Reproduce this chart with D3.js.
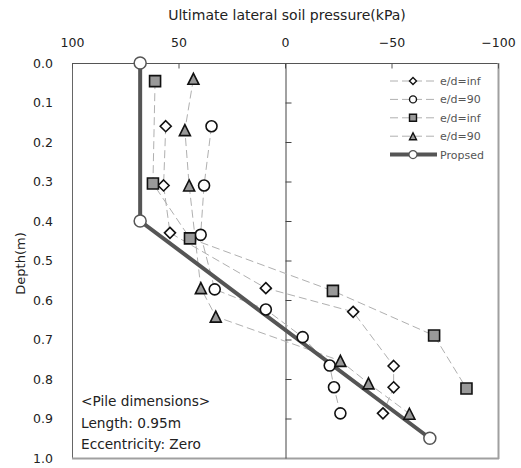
<!DOCTYPE html>
<html>
<head>
<meta charset="utf-8">
<script src="https://cdn.jsdelivr.net/npm/d3@7"></script>
<style>
	body { margin: 0; background: #fff; }
	text { font-family: "DejaVu Sans", sans-serif; }
</style>
</head>
<body>
<div id="chart"></div>
<script>
// pressure (kPa) and depth (m)
var diamondDepth = [0.16, 0.31, 0.43, 0.57, 0.63, 0.767, 0.821, 0.887];
var diamondP     = [56, 57, 54, 9, -32, -51, -51, -46];
var circleDepth  = [0.16, 0.31, 0.435, 0.573, 0.624, 0.694, 0.766, 0.821, 0.887];
var circleP      = [34.5, 38, 39.6, 33, 9, -8.3, -21, -23, -26];
var squareDepth  = [0.046, 0.305, 0.444, 0.577, 0.69, 0.824];
var squareP      = [61, 62, 44.6, -22.5, -70, -85.2];
var triDepth     = [0.04, 0.17, 0.31, 0.57, 0.642, 0.754, 0.811, 0.888];
var triP         = [43, 47, 45, 39.5, 32.5, -26, -39.2, -58.4];
var propDepth    = [0, 0.4, 0.95];
var propP        = [68, 68, -68];

var xTicks = [100, 50, 0, -50, -100];
var yTicks = [0, 0.1, 0.2, 0.3, 0.4, 0.5, 0.6, 0.7, 0.8, 0.9, 1.0];
var legendLabels = ["e/d=inf", "e/d=90", "e/d=inf", "e/d=90", "Propsed"];
var noteLines = ["<Pile dimensions>", "Length: 0.95m", "Eccentricity: Zero"];

var width = 521, height = 468;
var L = 72, R = 498, T = 63, B = 458;

var svg = d3.select("#chart").append("svg")
	.attr("width", width)
	.attr("height", height);

var x = d3.scaleLinear().domain([100, -100]).range([L, R]);
var y = d3.scaleLinear().domain([0, 1]).range([T, B]);

// frame
svg.append("line").attr("x1", L + 0.5).attr("x2", L + 0.5).attr("y1", T).attr("y2", B).attr("stroke", "#666");
svg.append("line").attr("x1", L).attr("x2", R).attr("y1", T + 0.5).attr("y2", T + 0.5).attr("stroke", "#555");
svg.append("line").attr("x1", R + 0.5).attr("x2", R + 0.5).attr("y1", T).attr("y2", B + 1).attr("stroke", "#a0a0a0").attr("stroke-width", 2);
svg.append("line").attr("x1", L).attr("x2", R + 1).attr("y1", B + 0.5).attr("y2", B + 0.5).attr("stroke", "#a0a0a0").attr("stroke-width", 2);

// top axis
var gx = svg.append("g")
	.attr("transform", "translate(0," + (T + 0.5) + ")")
	.call(d3.axisTop(x).tickValues(xTicks).tickSize(-5).tickPadding(17).tickFormat(d3.format("d")));
gx.select(".domain").remove();
gx.selectAll("line").attr("stroke", "#555");
gx.selectAll("text").attr("font-size", 12.5).attr("fill", "#222").style("font-family", null);

// zero line with ticks
var gz = svg.append("g")
	.attr("transform", "translate(" + (x(0) + 0.5) + ",0)")
	.call(d3.axisRight(y).tickValues(yTicks.slice(1, -1)).tickSize(6).tickSizeOuter(0).tickFormat(""));
gz.select(".domain").attr("stroke", "#444");
gz.selectAll("line").attr("stroke", "#444");

// left labels
var gy = svg.append("g")
	.attr("transform", "translate(" + L + ",0)")
	.call(d3.axisLeft(y).tickValues(yTicks).tickSize(0).tickPadding(19).tickFormat(d3.format(".1f")));
gy.select(".domain").remove();
gy.selectAll("text").attr("font-size", 12.5).attr("fill", "#222").style("font-family", null);

svg.append("text")
	.attr("x", 287).attr("y", 20)
	.attr("text-anchor", "middle")
	.attr("font-size", 14).attr("fill", "#222")
	.text("Ultimate lateral soil pressure(kPa)");

svg.append("text")
	.attr("transform", "translate(25," + ((T + B) / 2 + 3) + ") rotate(-90)")
	.attr("text-anchor", "middle")
	.attr("font-size", 13).attr("fill", "#222")
	.text("Depth(m)");

// marker shapes
function shapePath(type, s) {
	var h = s / 2;
	if (type == "diamond") return "M0," + (-h) + "L" + h + ",0L0," + h + "L" + (-h) + ",0Z";
	if (type == "square") return "M" + (-h) + "," + (-h) + "H" + h + "V" + h + "H" + (-h) + "Z";
	if (type == "triangle") return "M0," + (-h) + "L" + h + "," + h + "L" + (-h) + "," + h + "Z";
	return null;
}

var series = [
	{ name: legendLabels[0], type: "diamond", fill: "#fff", size: 11, p: diamondP, d: diamondDepth },
	{ name: legendLabels[1], type: "circle", fill: "#fff", size: 11, p: circleP, d: circleDepth },
	{ name: legendLabels[2], type: "square", fill: "#999", size: 11, p: squareP, d: squareDepth },
	{ name: legendLabels[3], type: "triangle", fill: "#999", size: 11, p: triP, d: triDepth }
];

var line = d3.line().x(d => x(d[0])).y(d => y(d[1]));

series.forEach(function(s) {
	var pts = s.p.map((v, i) => [v, s.d[i]]);
	svg.append("path")
		.attr("d", line(pts))
		.attr("fill", "none")
		.attr("stroke", "#b0b0b0")
		.attr("stroke-width", 1)
		.attr("stroke-dasharray", "8,4");
});

// proposed
var propPts = propP.map((v, i) => [v, propDepth[i]]);
svg.append("path")
	.attr("d", line(propPts))
	.attr("fill", "none")
	.attr("stroke", "#555")
	.attr("stroke-width", 4);

function drawMarker(g, type, fill, size, stroke, sw) {
	if (type == "circle") {
		return g.append("circle").attr("r", size / 2).attr("fill", fill).attr("stroke", stroke).attr("stroke-width", sw);
	}
	return g.append("path").attr("d", shapePath(type, size)).attr("fill", fill).attr("stroke", stroke).attr("stroke-width", sw);
}

series.forEach(function(s) {
	s.p.forEach(function(v, i) {
		var g = svg.append("g").attr("transform", "translate(" + x(v) + "," + y(s.d[i]) + ")");
		drawMarker(g, s.type, s.fill, s.size, "#111", 1.6);
	});
});

propPts.forEach(function(p) {
	var g = svg.append("g").attr("transform", "translate(" + x(p[0]) + "," + y(p[1]) + ")");
	drawMarker(g, "circle", "#fff", 12, "#555", 1.5);
});

// legend
var leg = svg.append("g").attr("transform", "translate(390,81)");
legendLabels.forEach(function(lab, i) {
	var g = leg.append("g").attr("transform", "translate(0," + (i * 18.4) + ")");
	if (i < 4) {
		g.append("line").attr("x1", 0).attr("x2", 47).attr("stroke", "#b0b0b0").attr("stroke-dasharray", "8,4");
		var m = g.append("g").attr("transform", "translate(23,0)");
		drawMarker(m, series[i].type, series[i].fill, 7, "#111", 1.4);
	} else {
		g.append("line").attr("x1", 0).attr("x2", 47).attr("stroke", "#555").attr("stroke-width", 4);
		var m = g.append("g").attr("transform", "translate(23,0)");
		drawMarker(m, "circle", "#fff", 8, "#555", 1.2);
	}
	g.append("text").attr("x", 50).attr("y", 4).attr("font-size", 11).attr("fill", "#555").text(lab);
});

// note box
noteLines.forEach(function(t, i) {
	svg.append("text")
		.attr("x", 81).attr("y", 406 + i * 21.5)
		.attr("font-size", 13.7).attr("fill", "#222")
		.text(t);
});
</script>
</body>
</html>
